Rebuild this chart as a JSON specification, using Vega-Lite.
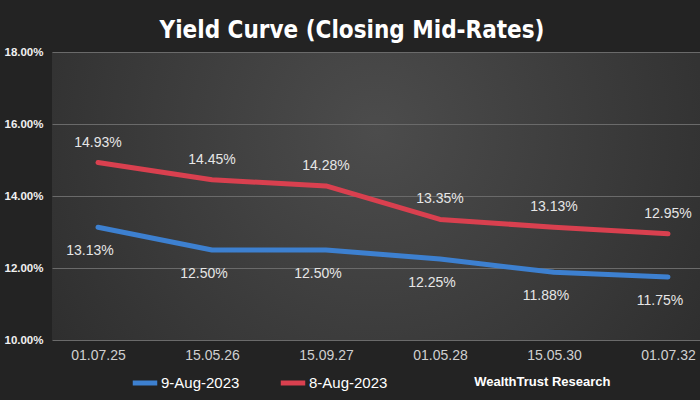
{
  "$schema": "https://vega.github.io/schema/vega-lite/v6.json",
  "autosize": {"type": "none"},
  "width": 648,
  "height": 288,
  "padding": {"top": 52, "left": 52, "right": 0, "bottom": 60},
  "background": "#232323",
  "title": {
    "text": "Yield Curve (Closing Mid-Rates)",
    "font": "'DejaVu Sans Condensed', 'Liberation Sans Narrow', 'Roboto Condensed', Roboto",
    "fontSize": 24,
    "fontWeight": "bold",
    "color": "#ffffff",
    "anchor": "middle",
    "frame": "bounds",
    "offset": 3
  },
  "data": {
    "values": [
      {"tenor": "01.07.25", "date": "9-Aug-2023", "rate": 13.13},
      {"tenor": "15.05.26", "date": "9-Aug-2023", "rate": 12.50},
      {"tenor": "15.09.27", "date": "9-Aug-2023", "rate": 12.50},
      {"tenor": "01.05.28", "date": "9-Aug-2023", "rate": 12.25},
      {"tenor": "15.05.30", "date": "9-Aug-2023", "rate": 11.88},
      {"tenor": "01.07.32", "date": "9-Aug-2023", "rate": 11.75},
      {"tenor": "01.07.25", "date": "8-Aug-2023", "rate": 14.93},
      {"tenor": "15.05.26", "date": "8-Aug-2023", "rate": 14.45},
      {"tenor": "15.09.27", "date": "8-Aug-2023", "rate": 14.28},
      {"tenor": "01.05.28", "date": "8-Aug-2023", "rate": 13.35},
      {"tenor": "15.05.30", "date": "8-Aug-2023", "rate": 13.13},
      {"tenor": "01.07.32", "date": "8-Aug-2023", "rate": 12.95}
    ]
  },
  "transform": [{"calculate": "format(datum.rate, '.2f') + '%'", "as": "label"}],
  "encoding": {
    "x": {
      "field": "tenor",
      "type": "ordinal",
      "sort": null,
      "scale": {"type": "point", "padding": 0.342, "align": 0.59},
      "axis": {
        "title": "WealthTrust Research",
        "titleFont": "Liberation Sans",
        "titleFontSize": 13,
        "titleFontWeight": "bold",
        "titleColor": "#ffffff",
        "titleAlign": "right",
        "titleX": 558,
        "titleY": 35,
        "labelAngle": 0,
        "labelFont": "Liberation Sans",
        "labelFontSize": 14,
        "labelColor": "#d0d0d0",
        "labelPadding": 8,
        "ticks": false,
        "domain": false,
        "grid": false
      }
    },
    "y": {
      "field": "rate",
      "type": "quantitative",
      "scale": {"domain": [10, 18]},
      "axis": {
        "title": null,
        "values": [10, 12, 14, 16, 18],
        "labelExpr": "format(datum.value, '.2f') + '%'",
        "labelFont": "Liberation Sans",
        "labelFontSize": 11.5,
        "labelFontWeight": "bold",
        "labelColor": "#f0f0f0",
        "labelPadding": 9,
        "ticks": false,
        "domain": false,
        "grid": true,
        "gridColor": "#6a6a6a",
        "gridWidth": 1
      }
    }
  },
  "layer": [
    {
      "mark": {"type": "line", "strokeWidth": 5, "strokeCap": "round", "strokeJoin": "round"},
      "encoding": {
        "color": {
          "field": "date",
          "type": "nominal",
          "scale": {"domain": ["9-Aug-2023", "8-Aug-2023"], "range": ["#3d80d0", "#d9404f"]},
          "legend": {
            "title": null,
            "orient": "none",
            "direction": "horizontal",
            "legendX": 78,
            "legendY": 316,
            "symbolType": "stroke",
            "symbolStrokeWidth": 5,
            "symbolSize": 600,
            "labelFont": "Liberation Sans",
            "labelFontSize": 15,
            "labelColor": "#ffffff",
            "labelOffset": 1,
            "columnPadding": 30
          }
        }
      }
    },
    {
      "transform": [{"filter": "datum.date === '8-Aug-2023'"}],
      "mark": {"type": "text", "dy": -20, "font": "Liberation Sans", "fontSize": 14, "color": "#e6e6e6"},
      "encoding": {"text": {"field": "label", "type": "nominal"}}
    },
    {
      "transform": [{"filter": "datum.date === '9-Aug-2023'"}],
      "mark": {"type": "text", "dy": 24, "dx": -8, "font": "Liberation Sans", "fontSize": 14, "color": "#e6e6e6"},
      "encoding": {"text": {"field": "label", "type": "nominal"}}
    }
  ],
  "config": {
    "view": {
      "stroke": null,
      "fill": {
        "gradient": "radial",
        "x1": 0.5, "y1": 0.4, "r1": 0,
        "x2": 0.5, "y2": 0.4, "r2": 0.75,
        "stops": [
          {"offset": 0, "color": "#4c4c4c"},
          {"offset": 1, "color": "#272727"}
        ]
      }
    }
  }
}
